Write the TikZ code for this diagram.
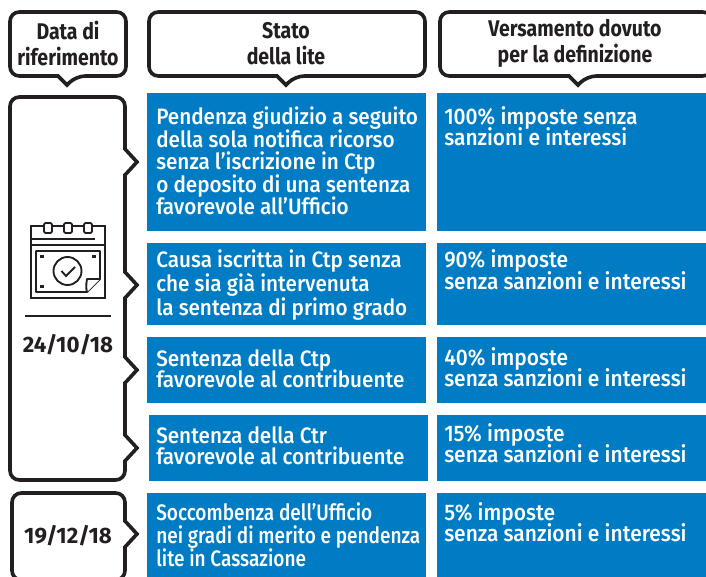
\documentclass[tikz,border=0pt]{standalone}
\usepackage{fontspec}
\setmainfont{Fira Sans}[UprightFont=* Medium,BoldFont=* Bold]
\newfontfamily\bodyfont{Fira Sans Medium}[FakeStretch=0.93]
\newfontfamily\condfont{Fira Sans Medium}[FakeStretch=0.85]
\newfontfamily\headfont{Fira Sans Bold}[FakeStretch=0.86]
\definecolor{ilblue}{RGB}{0,124,196}
\definecolor{ilink}{RGB}{35,31,32}
\newcommand{\tightlines}{\lineskiplimit=-100pt\relax}
\newcommand{\bodysize}[1]{\tightlines\bodyfont\fontsize{16.7}{#1}\selectfont}
\newcommand{\rightsize}[1]{\tightlines\bodyfont\fontsize{16.9}{#1}\selectfont}
\newcommand{\condsize}[1]{\tightlines\condfont\fontsize{16.8}{#1}\selectfont}
\newcommand{\headsize}{\tightlines\headfont\fontsize{17}{20}\selectfont}
\tikzset{
  x=0.75pt,y=-0.75pt,
  frame/.style={draw=ilink,line width=2.7pt,rounded corners=7pt,fill=white,line join=miter},
  bluetxt/.style={anchor=north west,align=left,text=white,inner sep=0pt,execute at begin node={\rule{0pt}{13pt}}},
  headtxt/.style={align=center,text=ilink,inner sep=0pt,font=\headsize},
  datetxt/.style={text=ilink,inner sep=0pt,font=\bfseries\fontsize{16.7}{18}\selectfont},
  icon/.style={draw=ilink,line width=1.4pt,fill=white},
}
\newcommand{\hdr}[5]{% x1 x2 y1 y2 px
  \draw[frame] (#1,#3) -- (#2,#3) -- (#2,#4) -- (#5+9,#4)
     [sharp corners] -- (#5,#4+9) -- (#5-9,#4) [rounded corners=7pt] -- (#1,#4) -- cycle;}
\newcommand{\rnotch}[1]{[sharp corners] -- (125,#1-13) -- (137,#1) -- (125,#1+13) [rounded corners=7pt]}
\begin{document}
\begin{tikzpicture}
\useasboundingbox (0,0) rectangle (706,577);
\fill[white] (0,0) rectangle (706,577);
% blue cells
\foreach \xa/\ya/\xb/\yb in {147/93/426/231,147/243/426/325,147/337/426/403,149/415/428/481,147/493/426/577,
  437/93/706/231,437/243/706/325,437/337/706/403,437/415/706/481,437/493/706/577}
  {\fill[ilblue] (\xa,\ya) rectangle (\xb,\yb);}
% headers
\hdr{10}{126}{12}{76}{67}
\hdr{149}{425}{12}{76}{286}
\hdr{440}{712}{12}{76}{578}
\node[headtxt] (h1) at (68,43.5) {Data di\\riferimento};
\node[headtxt] (h2) at (286,43.5) {Stato\\della lite};
\node[headtxt] (h3) at (575,43.5) {Versamento dovuto\\per la definizione};
% left panels
\draw[frame] (10,97) -- (125,97) \rnotch{162} \rnotch{285} \rnotch{370} \rnotch{448} -- (125,480) -- (10,480) -- cycle;
\draw[frame] (12,493) -- (125,493) \rnotch{534} -- (125,580) -- (12,580) -- cycle;
% calendar icon
\draw[icon] (31,226) rectangle (105,298);
\draw[icon] (31,245) -- (105,245);
\draw[icon] (32,239) -- (95,239);
\draw[icon,line join=round] (36,251) -- (100,251) -- (100,279) -- (87,292) -- (36,292) -- cycle;
\foreach \cx in {48,68,88}{\draw[icon,rounded corners=1pt] (\cx-4,223) rectangle (\cx+4,233);}
\fill[ilink] (40,255) rectangle (44,258);
\fill[ilink] (92,255) rectangle (96,258);
\fill[ilink] (40,285) rectangle (44,288);
\draw[icon] (67.5,271) circle (14);
\draw[icon] (61.5,271) -- (66,276) -- (75,267);
\draw[icon,line join=round] (100,279) -- (87,279) .. controls (86,285) and (86,289) .. (87,292);
\draw[ilink,line width=1.4pt] (25,316) -- (111,316);
\node[datetxt] (d1) at (68,345) {24/10/18};
\node[datetxt] (d2) at (68,536) {19/12/18};
% texts
\node[bluetxt,font=\bodysize{16.9}] (a1) at (156,106.7) {Pendenza giudizio a seguito\\della sola notifica ricorso\\senza l’iscrizione in Ctp\\o deposito di una sentenza\\favorevole all’Ufficio};
\node[bluetxt,font=\bodysize{18}] (a2) at (156,249.7) {Causa iscritta in Ctp senza\\che sia già intervenuta\\la sentenza di primo grado};
\node[bluetxt,font=\bodysize{15.3}] (a3) at (156,349.7) {Sentenza della Ctp\\favorevole al contribuente};
\node[bluetxt,font=\bodysize{15.3}] (a4) at (156,426.7) {Sentenza della Ctr\\favorevole al contribuente};
\node[bluetxt,font=\condsize{17}] (a5) at (156,502.7) {Soccombenza dell’Ufficio\\nei gradi di merito e pendenza\\lite in Cassazione};
\node[bluetxt,font=\rightsize{15.2}] (b1) at (444,106.7) {100\% imposte senza\\sanzioni e interessi};
\node[bluetxt,font=\rightsize{16}] (b2) at (444,249.7) {90\% imposte\\senza sanzioni e interessi};
\node[bluetxt,font=\rightsize{15.8}] (b3) at (444,347.7) {40\% imposte\\senza sanzioni e interessi};
\node[bluetxt,font=\rightsize{15.8}] (b4) at (444,423.7) {15\% imposte\\senza sanzioni e interessi};
\node[bluetxt,font=\rightsize{15.8}] (b5) at (444,502.7) {5\% imposte\\senza sanzioni e interessi};
\end{tikzpicture}
\end{document}
